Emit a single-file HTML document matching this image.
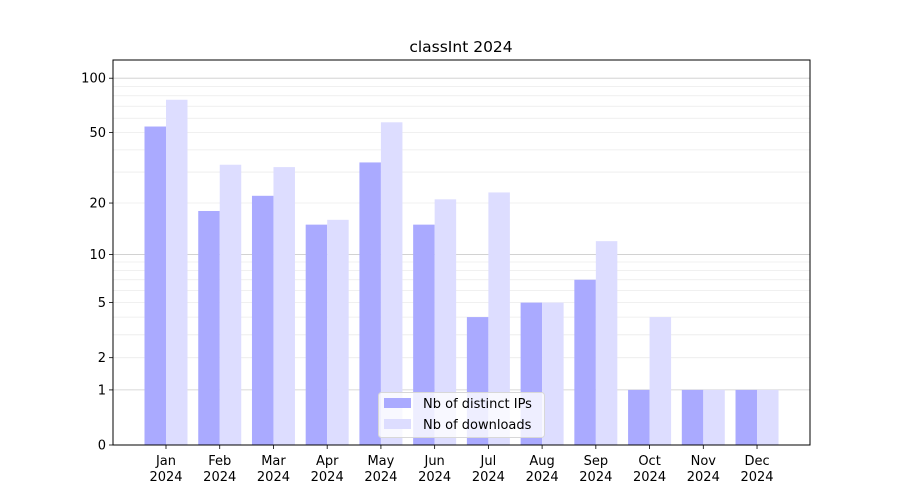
<!DOCTYPE html>
<html><head><meta charset="utf-8"><style>
html,body{margin:0;padding:0;background:#fff;}
svg{display:block;font-family:"DejaVu Sans","Liberation Sans",sans-serif;}
</style></head><body>
<svg id="c" width="900" height="500" xmlns="http://www.w3.org/2000/svg"></svg>
<script>
const s=document.getElementById('c');
const L=113,R=810,T=60,B=445;
const Y=v=>B-183*Math.log10(v+1);
let h='<rect width="900" height="500" fill="#fff"/>';
// minor grid
for(const d of [1,10]) for(let k=2;k<=9;k++){const y=Y(k*d);h+=`<line x1="${L}" x2="${R}" y1="${y}" y2="${y}" stroke="#ebebeb" stroke-width="0.8"/>`;}
for(const v of [1,10,100]){const y=Y(v);h+=`<line x1="${L}" x2="${R}" y1="${y}" y2="${y}" stroke="#cccccc" stroke-width="0.8"/>`;}
const ips=[54,18,22,15,34,15,4,5,7,1,1,1];
const dl=[76,33,32,16,57,21,23,5,12,4,1,1];
const m=['Jan','Feb','Mar','Apr','May','Jun','Jul','Aug','Sep','Oct','Nov','Dec'];
for(let i=0;i<12;i++){
 const c=166+i*53.73;
 h+=`<rect x="${c-21.5}" y="${Y(ips[i])}" width="21.5" height="${B-Y(ips[i])}" fill="#aaaaff"/>`;
 h+=`<rect x="${c}" y="${Y(dl[i])}" width="21.5" height="${B-Y(dl[i])}" fill="#ddddff"/>`;
 h+=`<line x1="${c}" x2="${c}" y1="${B}" y2="${B+4}" stroke="#000" stroke-width="0.8"/>`;
 h+=`<text x="${c}" y="${B+20}" font-size="13" text-anchor="middle">${m[i]}</text>`;
 h+=`<text x="${c}" y="${B+36}" font-size="13" text-anchor="middle">2024</text>`;
}
for(const v of [0,1,2,5,10,20,50,100]){const y=Y(v);
 h+=`<line x1="${L-4}" x2="${L}" y1="${y}" y2="${y}" stroke="#000" stroke-width="0.8"/>`;
 h+=`<text x="${L-7}" y="${y+4.5}" font-size="13" text-anchor="end">${v}</text>`;}
h+=`<rect x="${L}" y="${T}" width="${R-L}" height="${B-T}" fill="none" stroke="#000" stroke-width="1"/>`;
h+=`<text x="461" y="52" font-size="15.5" text-anchor="middle">classInt 2024</text>`;
h+=`<rect x="378.5" y="392.5" width="166" height="45" rx="3" fill="#fff" fill-opacity="0.8" stroke="#d8d8d8"/>`;
h+=`<rect x="384" y="398" width="27" height="10" fill="#aaaaff"/><text x="423" y="408" font-size="13">Nb of distinct IPs</text>`;
h+=`<rect x="384" y="419" width="27" height="10" fill="#ddddff"/><text x="423" y="429" font-size="13">Nb of downloads</text>`;
s.innerHTML=h;
</script>
</body></html>
